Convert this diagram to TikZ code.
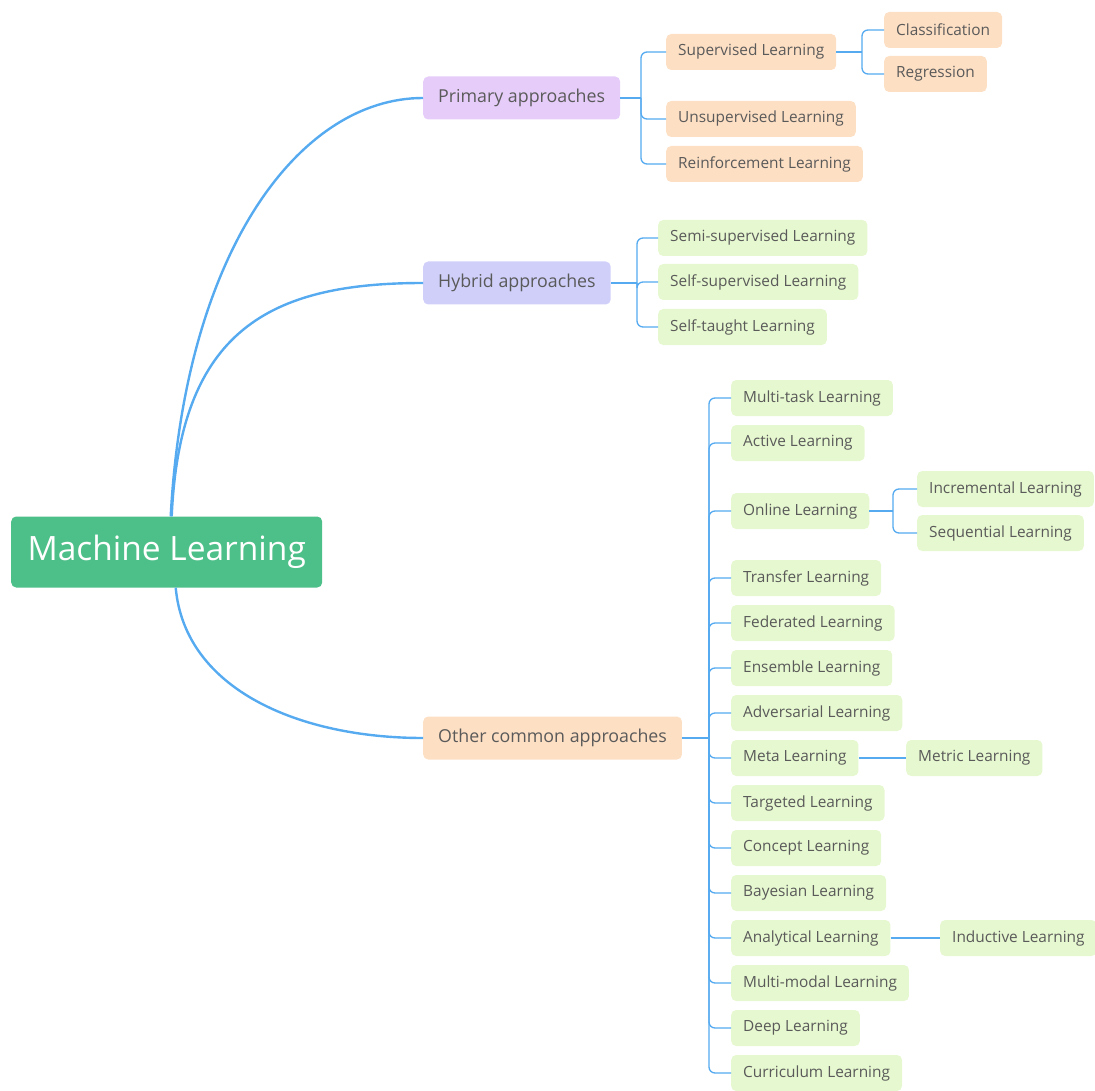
\documentclass[tikz,border=0pt]{standalone}
\usepackage{fontspec}
\setmainfont{Open Sans}

\definecolor{linkblue}{HTML}{55AAF0}
\definecolor{rootgreen}{HTML}{4DBF88}
\definecolor{lavender}{HTML}{E6CCF9}
\definecolor{periwinkle}{HTML}{CFCFFA}
\definecolor{peachfill}{HTML}{FDDFC4}
\definecolor{leaffill}{HTML}{E6F8CF}
\definecolor{textgray}{HTML}{5A5A5A}

\begin{document}
\begin{tikzpicture}[x=1pt,y=-1pt,
    mainline/.style={line width=2.4pt,draw=linkblue},
    branch/.style={line width=1.3pt,draw=linkblue,rounded corners=6pt},
    box/.style={rounded corners=5pt,anchor=west,inner xsep=12pt,minimum height=36pt,
        text=textgray,font=\fontsize{15.4}{18}\selectfont},
    peach/.style={box,fill=peachfill},
    leaf/.style={box,fill=leaffill},
    topic/.style={box,minimum height=43pt,inner xsep=15pt,font=\fontsize{17.8}{21}\selectfont}]

    \useasboundingbox (0,0) rectangle (1095,1091);

    % Root
    \node[box,fill=rootgreen,text=white,minimum width=311pt,minimum height=71pt,
        font=\fontsize{33.5}{38}\selectfont] (root) at (11,552) {Machine Learning};

    % Main branches
    \node[topic,fill=lavender] (primary) at (423,98) {Primary approaches};
    \node[topic,fill=periwinkle] (hybrid) at (423,283) {Hybrid approaches};
    \node[topic,fill=peachfill] (other) at (423,738) {Other common approaches};

    \draw[mainline] ([xshift=4pt]root.north) .. controls (185,250) and (300,98) .. (primary.west);
    \draw[mainline] ([xshift=5pt]root.north) .. controls (180,330) and (270,283) .. (hybrid.west);
    \draw[mainline] ([xshift=9pt]root.south) .. controls (185,690) and (300,738) .. (other.west);

    % Primary approaches
    \node[peach] (sup) at (666,52) {Supervised Learning};
    \node[peach] (unsup) at (666,119) {Unsupervised Learning};
    \node[peach] (rl) at (666,164) {Reinforcement Learning};
    \node[peach] (cls) at (884,30) {Classification};
    \node[peach] (reg) at (884,74) {Regression};

    \draw[branch] (primary.east) -- (641,98) coordinate (pj);
    \foreach \n in {sup,unsup,rl} {
        \draw[branch] (pj) |- (\n.west);
    }
    \draw[branch] (sup.east) -- (862,52) coordinate (sj);
    \foreach \n in {cls,reg} {
        \draw[branch] (sj) |- (\n.west);
    }

    % Hybrid approaches
    \node[leaf] (semi) at (658,238) {Semi-supervised Learning};
    \node[leaf] (selfsup) at (658,282) {Self-supervised Learning};
    \node[leaf] (taught) at (658,327) {Self-taught Learning};

    \draw[branch] (hybrid.east) -- (637,283) coordinate (hj);
    \foreach \n in {semi,selfsup,taught} {
        \draw[branch] (hj) |- (\n.west);
    }

    % Other common approaches
    \draw[branch] (other.east) -- (709,738) coordinate (oj);
    \foreach \n/\yy/\t in {mtl/398/Multi-task Learning, act/443/Active Learning,
        onl/511/Online Learning, trl/578/Transfer Learning, fed/623/Federated Learning,
        ens/668/Ensemble Learning, adv/713/Adversarial Learning, meta/758/Meta Learning,
        tgt/803/Targeted Learning, cpt/848/Concept Learning, bay/893/Bayesian Learning,
        ana/938/Analytical Learning, mml/983/Multi-modal Learning, deep/1028/Deep Learning,
        cur/1073/Curriculum Learning} {
        \node[leaf] (\n) at (731,\yy) {\t};
        \draw[branch] (oj) |- (\n.west);
    }

    \node[leaf] (inc) at (917,489) {Incremental Learning};
    \node[leaf] (seq) at (917,533) {Sequential Learning};
    \draw[branch] (onl.east) -- (893,511) coordinate (onj);
    \foreach \n in {inc,seq} {
        \draw[branch] (onj) |- (\n.west);
    }

    \node[leaf] (metric) at (906,758) {Metric Learning};
    \draw[branch] (meta) -- (metric);

    \node[leaf] (induct) at (940,938) {Inductive Learning};
    \draw[branch] (ana) -- (induct);
\end{tikzpicture}
\end{document}
